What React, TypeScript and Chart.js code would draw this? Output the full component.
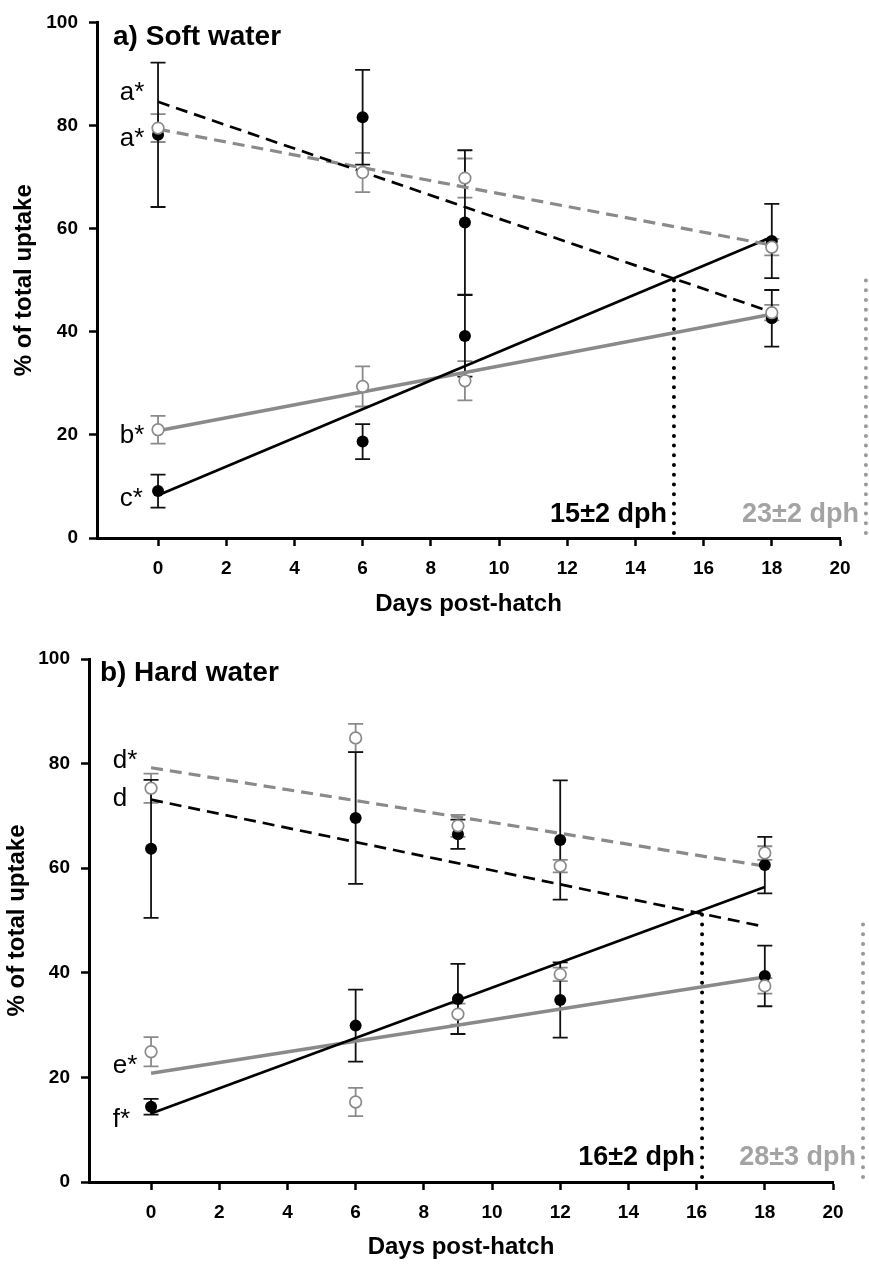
import { useEffect, useRef } from 'react';
import { Chart, registerables } from 'chart.js';
Chart.register(...registerables);

// ---------- shared axis data ----------
const X_TICKS = [0, 2, 4, 6, 8, 10, 12, 14, 16, 18, 20];
const TREND_DAYS = [0, 18];

// ---------- panel a) Soft water ----------
const DAYS_A = [0, 6, 9, 18];
const A_BLACK_DEC = [78.2, 81.6, 61.2, 42.6];
const A_BLACK_DEC_ERR = [14.0, 9.2, 14.0, 5.5];
const A_GREY_DEC = [79.5, 70.9, 69.8, 56.4];
const A_GREY_DEC_ERR = [2.7, 3.8, 3.8, 1.6];
const A_BLACK_INC = [9.1, 18.7, 39.2, 57.6];
const A_BLACK_INC_ERR = [3.2, 3.4, 7.9, 7.2];
const A_GREY_INC = [21.0, 29.4, 30.5, 43.7];
const A_GREY_INC_ERR = [2.7, 3.9, 3.8, 1.5];
const A_TREND_BLACK_DEC = [84.6, 43.8];
const A_TREND_GREY_DEC = [79.3, 56.8];
const A_TREND_BLACK_INC = [8.3, 58.4];
const A_TREND_GREY_INC = [20.8, 43.4];
const A_DPH_X = [15.13, 20.76];
const A_DPH_TOP = [50.4, 50.1];
const A_DPH_LABELS = ['15±2 dph', '23±2 dph'];
const A_LETTERS = ['a*', 'a*', 'b*', 'c*'];
const A_LETTER_Y = [84.9, 76.1, 18.5, 6.3];
const A_TITLE = 'a) Soft water';

// ---------- panel b) Hard water ----------
const DAYS_B = [0, 6, 9, 12, 18];
const B_BLACK_DEC = [63.7, 69.6, 66.5, 65.4, 60.6];
const B_BLACK_DEC_ERR = [13.2, 12.6, 2.8, 11.4, 5.4];
const B_GREY_DEC = [75.3, 84.9, 68.1, 60.4, 62.9];
const B_GREY_DEC_ERR = [2.8, 2.7, 2.1, 1.2, 1.3];
const B_BLACK_INC = [14.4, 29.9, 35.0, 34.8, 39.4];
const B_BLACK_INC_ERR = [1.5, 6.9, 6.7, 7.2, 5.8];
const B_GREY_INC = [24.9, 15.3, 32.1, 39.7, 37.5];
const B_GREY_INC_ERR = [2.8, 2.7, 2.0, 1.3, 1.5];
const B_TREND_BLACK_DEC = [73.1, 48.8];
const B_TREND_GREY_DEC = [79.2, 60.4];
const B_TREND_BLACK_INC = [13.1, 56.4];
const B_TREND_GREY_INC = [20.8, 39.2];
const B_DPH_X = [16.16, 20.88];
const B_DPH_TOP = [51.2, 49.7];
const B_DPH_LABELS = ['16±2 dph', '28±3 dph'];
const B_LETTERS = ['d*', 'd', 'e*', 'f*'];
const B_LETTER_Y = [79.2, 71.9, 20.8, 10.5];
const B_TITLE = 'b) Hard water';

const FONT = "'Liberation Sans', Arial, Helvetica, sans-serif";
const GREY = '#8a8a8a';
const LIGHT_GREY = '#a3a3a3';

type Panel = {
  days: number[];
  blackDec: number[]; blackDecErr: number[];
  greyDec: number[]; greyDecErr: number[];
  blackInc: number[]; blackIncErr: number[];
  greyInc: number[]; greyIncErr: number[];
  tBlackDec: number[]; tGreyDec: number[]; tBlackInc: number[]; tGreyInc: number[];
  dphX: number[]; dphTop: number[]; dphLabels: string[];
  letters: string[]; letterY: number[];
  title: string; titleX: number;
  xMin: number;
  height: number; padTop: number; padRight: number;
  yAxisW: number; xAxisH: number; yTitlePad: number; xTitlePad: number;
};

const pts = (xs: number[], ys: number[]) => xs.map((x, i) => ({ x, y: ys[i] }));

function annotPlugin(p: Panel) {
  return {
    id: 'annot',
    beforeDatasetsDraw(chart: any) {
      const { ctx, scales } = chart;
      const xs = scales.x;
      const ys = scales.y;
      // error bars
      chart.data.datasets.forEach((ds: any) => {
        if (!ds.err) return;
        ctx.save();
        ctx.strokeStyle = ds.errColor;
        ctx.lineWidth = 1.8;
        ds.data.forEach((pt: any, i: number) => {
          const px = xs.getPixelForValue(pt.x);
          const top = ys.getPixelForValue(pt.y + ds.err[i]);
          const bot = ys.getPixelForValue(pt.y - ds.err[i]);
          ctx.beginPath();
          ctx.moveTo(px, top); ctx.lineTo(px, bot);
          ctx.moveTo(px - 7.5, top); ctx.lineTo(px + 7.5, top);
          ctx.moveTo(px - 7.5, bot); ctx.lineTo(px + 7.5, bot);
          ctx.stroke();
        });
        ctx.restore();
      });
      // dotted vertical lines
      p.dphX.forEach((dx, i) => {
        const px = xs.getPixelForValue(dx);
        ctx.save();
        ctx.strokeStyle = i === 0 ? '#000' : '#999';
        ctx.lineWidth = 4;
        ctx.lineCap = 'round';
        ctx.setLineDash([0.01, 9.7]);
        ctx.beginPath();
        ctx.moveTo(px, ys.getPixelForValue(0) - 5);
        ctx.lineTo(px, ys.getPixelForValue(p.dphTop[i]));
        ctx.stroke();
        ctx.restore();
      });
    },
    afterDatasetsDraw(chart: any) {
      const { ctx, scales } = chart;
      const xs = scales.x;
      const ys = scales.y;
      ctx.save();
      ctx.textBaseline = 'alphabetic';
      // panel title
      ctx.fillStyle = '#000';
      ctx.textAlign = 'left';
      ctx.font = `bold 28px ${FONT}`;
      ctx.fillText(p.title, xs.getPixelForValue(p.titleX), ys.getPixelForValue(95.7));
      // letters
      ctx.font = `26px ${FONT}`;
      p.letters.forEach((t, i) => {
        ctx.fillText(t, xs.getPixelForValue(-1.12), ys.getPixelForValue(p.letterY[i]));
      });
      // dph labels
      ctx.font = `bold 27px ${FONT}`;
      ctx.textAlign = 'right';
      p.dphLabels.forEach((t, i) => {
        ctx.fillStyle = i === 0 ? '#000' : LIGHT_GREY;
        ctx.fillText(t, xs.getPixelForValue(p.dphX[i]) - 7, ys.getPixelForValue(3.2));
      });
      ctx.restore();
    },
  };
}

function buildChart(canvas: HTMLCanvasElement, p: Panel) {
  const marker = (ys: number[], err: number[], black: boolean) => ({
    data: pts(p.days, ys),
    err,
    errColor: black ? '#111' : GREY,
    showLine: false,
    pointRadius: black ? 6 : 5.8,
    pointBackgroundColor: black ? '#000' : '#fff',
    pointBorderColor: black ? '#000' : GREY,
    pointBorderWidth: black ? 0 : 1.7,
    order: black ? 1 : 0,
  });
  const trend = (ys: number[], color: string, dashed: boolean, width: number) => ({
    data: pts(TREND_DAYS, ys),
    showLine: true,
    borderColor: color,
    borderWidth: width,
    borderDash: dashed ? [12, 7] : [],
    pointRadius: 0,
    order: 2,
  });
  const datasets: any[] = [
    marker(p.greyDec, p.greyDecErr, false),
    marker(p.greyInc, p.greyIncErr, false),
    marker(p.blackDec, p.blackDecErr, true),
    marker(p.blackInc, p.blackIncErr, true),
    trend(p.tBlackDec, '#000', true, 2.7),
    trend(p.tGreyDec, GREY, true, 3.2),
    trend(p.tBlackInc, '#000', false, 2.7),
    trend(p.tGreyInc, GREY, false, 3.5),
  ];
  const grid = { drawOnChartArea: false, drawTicks: true, tickLength: 8, tickWidth: 2.5, tickColor: '#000' };
  const border = { display: true, color: '#000', width: 3 };
  const tickFont = { family: FONT, size: 19, weight: 'bold' as const };
  const titleFont = { family: FONT, size: 24, weight: 'bold' as const };
  return new Chart(canvas, {
    type: 'scatter',
    data: { datasets },
    plugins: [annotPlugin(p) as any],
    options: {
      responsive: false,
      animation: false,
      events: [],
      layout: { padding: { left: 0, top: p.padTop, right: p.padRight, bottom: 0 } },
      plugins: { legend: { display: false }, tooltip: { enabled: false }, title: { display: false } },
      scales: {
        x: {
          type: 'linear',
          min: p.xMin,
          max: 20,
          afterBuildTicks: (s: any) => { s.ticks = X_TICKS.map((v) => ({ value: v })); },
          afterFit: (s: any) => { s.height = p.xAxisH; },
          grid,
          border,
          ticks: { color: '#000', font: tickFont, padding: 11, maxRotation: 0, autoSkip: false },
          title: { display: true, text: 'Days post-hatch', color: '#000', font: titleFont, padding: { top: 0, bottom: p.xTitlePad } },
        },
        y: {
          type: 'linear',
          min: 0,
          max: 100,
          afterFit: (s: any) => { s.width = p.yAxisW; },
          grid,
          border,
          ticks: { stepSize: 20, color: '#000', font: tickFont, padding: 11 },
          title: { display: true, text: '% of total uptake', color: '#000', font: titleFont, padding: { top: p.yTitlePad, bottom: 0 } },
        },
      },
    } as any,
  });
}

const PANEL_A: Panel = {
  days: DAYS_A,
  blackDec: A_BLACK_DEC, blackDecErr: A_BLACK_DEC_ERR,
  greyDec: A_GREY_DEC, greyDecErr: A_GREY_DEC_ERR,
  blackInc: A_BLACK_INC, blackIncErr: A_BLACK_INC_ERR,
  greyInc: A_GREY_INC, greyIncErr: A_GREY_INC_ERR,
  tBlackDec: A_TREND_BLACK_DEC, tGreyDec: A_TREND_GREY_DEC, tBlackInc: A_TREND_BLACK_INC, tGreyInc: A_TREND_GREY_INC,
  dphX: A_DPH_X, dphTop: A_DPH_TOP, dphLabels: A_DPH_LABELS,
  letters: A_LETTERS, letterY: A_LETTER_Y,
  title: A_TITLE, titleX: -1.32,
  xMin: -1.79,
  height: 630, padTop: 15, padRight: 29,
  yAxisW: 97, xAxisH: 92, yTitlePad: 9.6, xTitlePad: 11.6,
};

const PANEL_B: Panel = {
  days: DAYS_B,
  blackDec: B_BLACK_DEC, blackDecErr: B_BLACK_DEC_ERR,
  greyDec: B_GREY_DEC, greyDecErr: B_GREY_DEC_ERR,
  blackInc: B_BLACK_INC, blackIncErr: B_BLACK_INC_ERR,
  greyInc: B_GREY_INC, greyIncErr: B_GREY_INC_ERR,
  tBlackDec: B_TREND_BLACK_DEC, tGreyDec: B_TREND_GREY_DEC, tBlackInc: B_TREND_BLACK_INC, tGreyInc: B_TREND_GREY_INC,
  dphX: B_DPH_X, dphTop: B_DPH_TOP, dphLabels: B_DPH_LABELS,
  letters: B_LETTERS, letterY: B_LETTER_Y,
  title: B_TITLE, titleX: -1.5,
  xMin: -1.82,
  height: 634, padTop: 29, padRight: 36,
  yAxisW: 89, xAxisH: 82, yTitlePad: 2.6, xTitlePad: 2.6,
};

function PanelChart({ panel, top }: { panel: Panel; top: number }) {
  const ref = useRef<HTMLCanvasElement | null>(null);
  useEffect(() => {
    if (!ref.current) return;
    const c = buildChart(ref.current, panel);
    return () => c.destroy();
  }, [panel]);
  return (
    <canvas
      ref={ref}
      width={869}
      height={panel.height}
      style={{ position: 'absolute', left: 0, top, width: 869, height: panel.height, display: 'block' }}
    />
  );
}

export default function App() {
  return (
    <div style={{ position: 'absolute', left: 0, top: 0, width: 869, height: 1264, background: '#fff' }}>
      <PanelChart panel={PANEL_A} top={0} />
      <PanelChart panel={PANEL_B} top={630} />
    </div>
  );
}
